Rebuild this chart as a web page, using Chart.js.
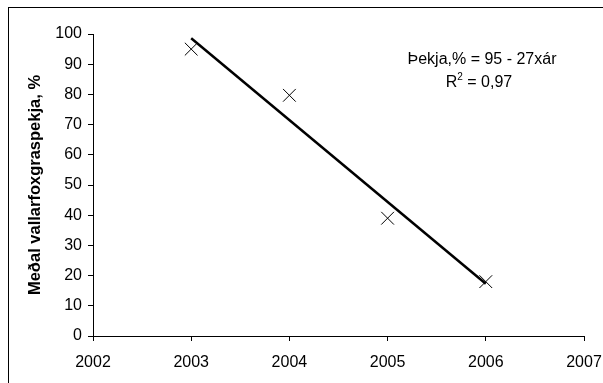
<!DOCTYPE html>
<html>
<head>
<meta charset="utf-8">
<script src="https://cdn.jsdelivr.net/npm/chart.js@4/dist/chart.umd.min.js"></script>
<style>
  html, body { margin: 0; padding: 0; background: #fff; }
  #wrap { width: 603px; height: 383px; position: relative; }
</style>
</head>
<body>
<div id="wrap"><canvas id="chart" width="603" height="383"></canvas></div>
<script>
// Data
const years = [2003, 2004, 2005, 2006];
const coverage = [95, 79.7, 39, 18];

// Trend line end points (linear fit drawn in the picture)
const trendYears = [2003, 2006];
const trendValues = [98.6, 17.3];

const xTicks = [2002, 2003, 2004, 2005, 2006, 2007];
const yTicks = [0, 10, 20, 30, 40, 50, 60, 70, 80, 90, 100];

const yTitle = 'Meðal vallarfoxgraspekja, %';
const equationText = 'Þekja,% = 95 - 27xár';
const rSquaredText = ' = 0,97';

const FONT = 'Arial, "Liberation Sans", sans-serif';

// Outer frame and the equation box
const extrasPlugin = {
    id: 'extras',
    afterDraw(chart) {
        const ctx = chart.ctx;
        ctx.save();
        ctx.strokeStyle = '#000';
        ctx.lineWidth = 1;
        ctx.strokeRect(8.5, 7.5, 700, 500);

        ctx.fillStyle = '#000';
        ctx.font = '16px ' + FONT;
        ctx.textBaseline = 'middle';
        ctx.textAlign = 'center';
        ctx.fillText(equationText, 482, 60);

        // R² line, superscript drawn by hand
        const rW = ctx.measureText('R').width;
        ctx.font = '10px ' + FONT;
        const supW = ctx.measureText('2').width;
        ctx.font = '16px ' + FONT;
        const restW = ctx.measureText(rSquaredText).width;
        let x = 479 - (rW + supW + restW) / 2;
        ctx.textAlign = 'left';
        ctx.fillText('R', x, 83);
        x += rW;
        ctx.font = '10px ' + FONT;
        ctx.fillText('2', x, 77);
        x += supW;
        ctx.font = '16px ' + FONT;
        ctx.fillText(rSquaredText, x, 83);
        ctx.restore();
    }
};

const ctx = document.getElementById('chart').getContext('2d');
new Chart(ctx, {
    type: 'scatter',
    data: {
        datasets: [
            {
                label: 'Trend',
                data: trendYears.map((y, i) => ({ x: y, y: trendValues[i] })),
                showLine: true,
                borderColor: '#000',
                borderWidth: 2.5,
                pointRadius: 0,
                fill: false
            },
            {
                label: 'Þekja',
                data: years.map((y, i) => ({ x: y, y: coverage[i] })),
                pointStyle: 'crossRot',
                pointRadius: 9,
                borderColor: '#000',
                borderWidth: 1,
                showLine: false
            }
        ]
    },
    options: {
        responsive: false,
        animation: false,
        events: [],
        layout: {
            padding: { left: 0, top: 34, right: 19, bottom: 0 }
        },
        plugins: {
            legend: { display: false },
            tooltip: { enabled: false }
        },
        scales: {
            x: {
                type: 'linear',
                min: 2002,
                max: 2007,
                afterBuildTicks: axis => {
                    axis.ticks = xTicks.map(v => ({ value: v }));
                },
                afterFit: axis => {
                    axis.height = 47;
                    axis.paddingLeft = 0;
                    axis.paddingRight = 0;
                },
                border: { display: true, color: '#000', width: 1 },
                grid: {
                    display: true,
                    drawOnChartArea: false,
                    drawTicks: true,
                    tickLength: 5,
                    color: '#000'
                },
                ticks: {
                    color: '#000',
                    padding: 12,
                    maxRotation: 0,
                    font: { family: FONT, size: 16 },
                    callback: v => String(v)
                }
            },
            y: {
                min: 0,
                max: 100,
                afterBuildTicks: axis => {
                    axis.ticks = yTicks.map(v => ({ value: v }));
                },
                afterFit: axis => {
                    axis.width = 93;
                    axis.paddingTop = 0;
                    axis.paddingBottom = 0;
                },
                border: { display: true, color: '#000', width: 1 },
                grid: {
                    display: true,
                    drawOnChartArea: false,
                    drawTicks: true,
                    tickLength: 5,
                    color: '#000'
                },
                ticks: {
                    color: '#000',
                    padding: 6,
                    font: { family: FONT, size: 16 }
                },
                title: {
                    display: true,
                    text: yTitle,
                    color: '#000',
                    padding: { top: 26, bottom: 0 },
                    font: { family: FONT, size: 16.5, weight: 'bold' }
                }
            }
        }
    },
    plugins: [extrasPlugin]
});
</script>
</body>
</html>
